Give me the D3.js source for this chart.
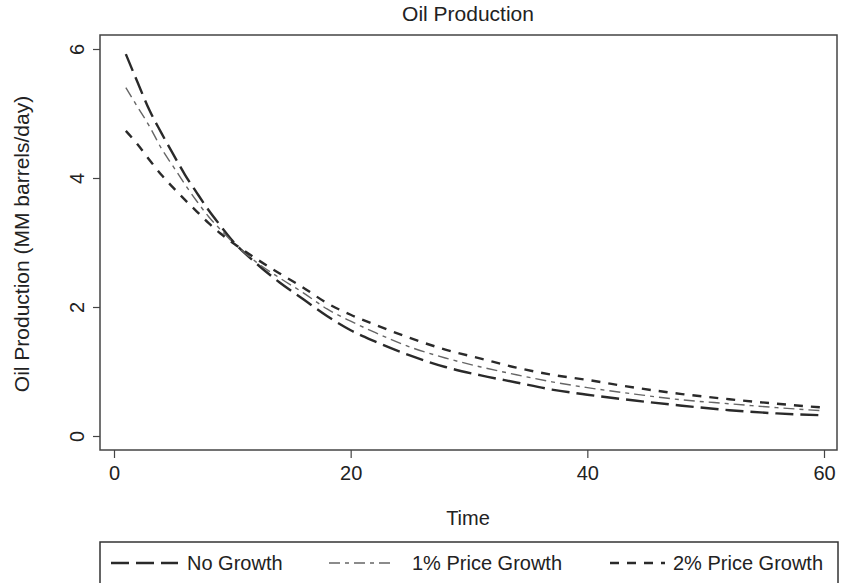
<!DOCTYPE html>
<html><head><meta charset="utf-8">
<script src="https://cdn.jsdelivr.net/npm/d3@7"></script>
<style>body{margin:0;background:#fff}svg{display:block}text{font-family:"Liberation Sans",Arial,sans-serif;fill:#222}</style>
</head><body><svg id="c" width="849" height="583"></svg>
<script>
const years = [1,2,3,4,5,6,7,8,9,10,12,14,16,18,20,22,25,28,31,34,37,40,44,48,52,56,60];
const noGrowth = [5.92,5.48,5.05,4.70,4.37,4.05,3.77,3.50,3.26,3.03,2.68,2.38,2.12,1.86,1.64,1.47,1.25,1.07,0.94,0.83,0.72,0.64,0.55,0.47,0.40,0.35,0.32];
const growth1 = [5.40,5.10,4.80,4.46,4.18,3.90,3.64,3.40,3.20,3.01,2.70,2.45,2.22,1.97,1.78,1.61,1.38,1.21,1.07,0.95,0.84,0.75,0.65,0.56,0.50,0.44,0.39];
const growth2 = [4.73,4.52,4.28,4.05,3.85,3.66,3.48,3.30,3.14,3.00,2.75,2.52,2.30,2.06,1.88,1.73,1.52,1.34,1.20,1.06,0.95,0.87,0.75,0.65,0.57,0.50,0.44];
const seriesNames = ["No Growth","1% Price Growth","2% Price Growth"];
const xTicks = [0,20,40,60];
const yTicks = [0,2,4,6];

const svg = d3.select("#c");
const x = d3.scaleLinear().domain([0,60]).range([114,824]);
const y = d3.scaleLinear().domain([0,6]).range([436,49]);
const frame = {l:100,t:35,r:837,b:450};

svg.append("text").attr("x",468).attr("y",21).attr("text-anchor","middle").attr("font-size",21).text("Oil Production");

svg.append("rect").attr("x",frame.l).attr("y",frame.t).attr("width",frame.r-frame.l).attr("height",frame.b-frame.t)
  .attr("fill","none").attr("stroke","#444").attr("stroke-width",1.5);

// y axis
const ya = svg.append("g").attr("transform",`translate(${frame.l},0)`)
  .call(d3.axisLeft(y).tickValues(yTicks).tickSize(7).tickPadding(0).tickFormat(d3.format("d")));
ya.select(".domain").remove();
ya.selectAll(".tick line").attr("stroke","#444").attr("stroke-width",1.2);
ya.selectAll(".tick text").attr("font-size",20).attr("fill","#222").attr("text-anchor","middle")
  .attr("x",0).attr("dy",0).attr("transform","translate(-23,0) rotate(-90)").attr("dominant-baseline","central");

// x axis
const xa = svg.append("g").attr("transform",`translate(0,${frame.b})`)
  .call(d3.axisBottom(x).tickValues(xTicks).tickSize(8).tickPadding(8).tickFormat(d3.format("d")));
xa.select(".domain").remove();
xa.selectAll(".tick line").attr("stroke","#444").attr("stroke-width",1.2);
xa.selectAll(".tick text").attr("font-size",20).attr("fill","#222");

svg.append("text").attr("x",468).attr("y",525).attr("text-anchor","middle").attr("font-size",20).text("Time");
svg.append("text").attr("transform","translate(29,244) rotate(-90)").attr("text-anchor","middle").attr("font-size",21)
  .text("Oil Production (MM barrels/day)");

const styles = [
  {data:noGrowth, color:"#2a2a2a", w:2.4, dash:"18,7"},
  {data:growth1, color:"#666", w:1.4, dash:"11,5,4,5"},
  {data:growth2, color:"#2a2a2a", w:2.4, dash:"9,8"}
];
const line = d3.line().x(d=>x(d[0])).y(d=>y(d[1])).curve(d3.curveMonotoneX);
styles.forEach(s=>{
  svg.append("path").datum(years.map((t,i)=>[t,s.data[i]])).attr("d",line)
    .attr("fill","none").attr("stroke",s.color).attr("stroke-width",s.w).attr("stroke-dasharray",s.dash);
});

// legend
svg.append("rect").attr("x",100).attr("y",542).attr("width",738).attr("height",60)
  .attr("fill","none").attr("stroke","#333").attr("stroke-width",1.5);
const leg = [
  {x1:111,x2:178,tx:187},
  {x1:329,x2:393,tx:412},
  {x1:610,x2:665,tx:673}
];
leg.forEach((l,i)=>{
  svg.append("line").attr("x1",l.x1).attr("x2",l.x2).attr("y1",563).attr("y2",563)
    .attr("stroke",styles[i].color).attr("stroke-width",styles[i].w).attr("stroke-dasharray",styles[i].dash);
  svg.append("text").attr("x",l.tx).attr("y",570).attr("font-size",20).text(seriesNames[i]);
});
</script></body></html>
